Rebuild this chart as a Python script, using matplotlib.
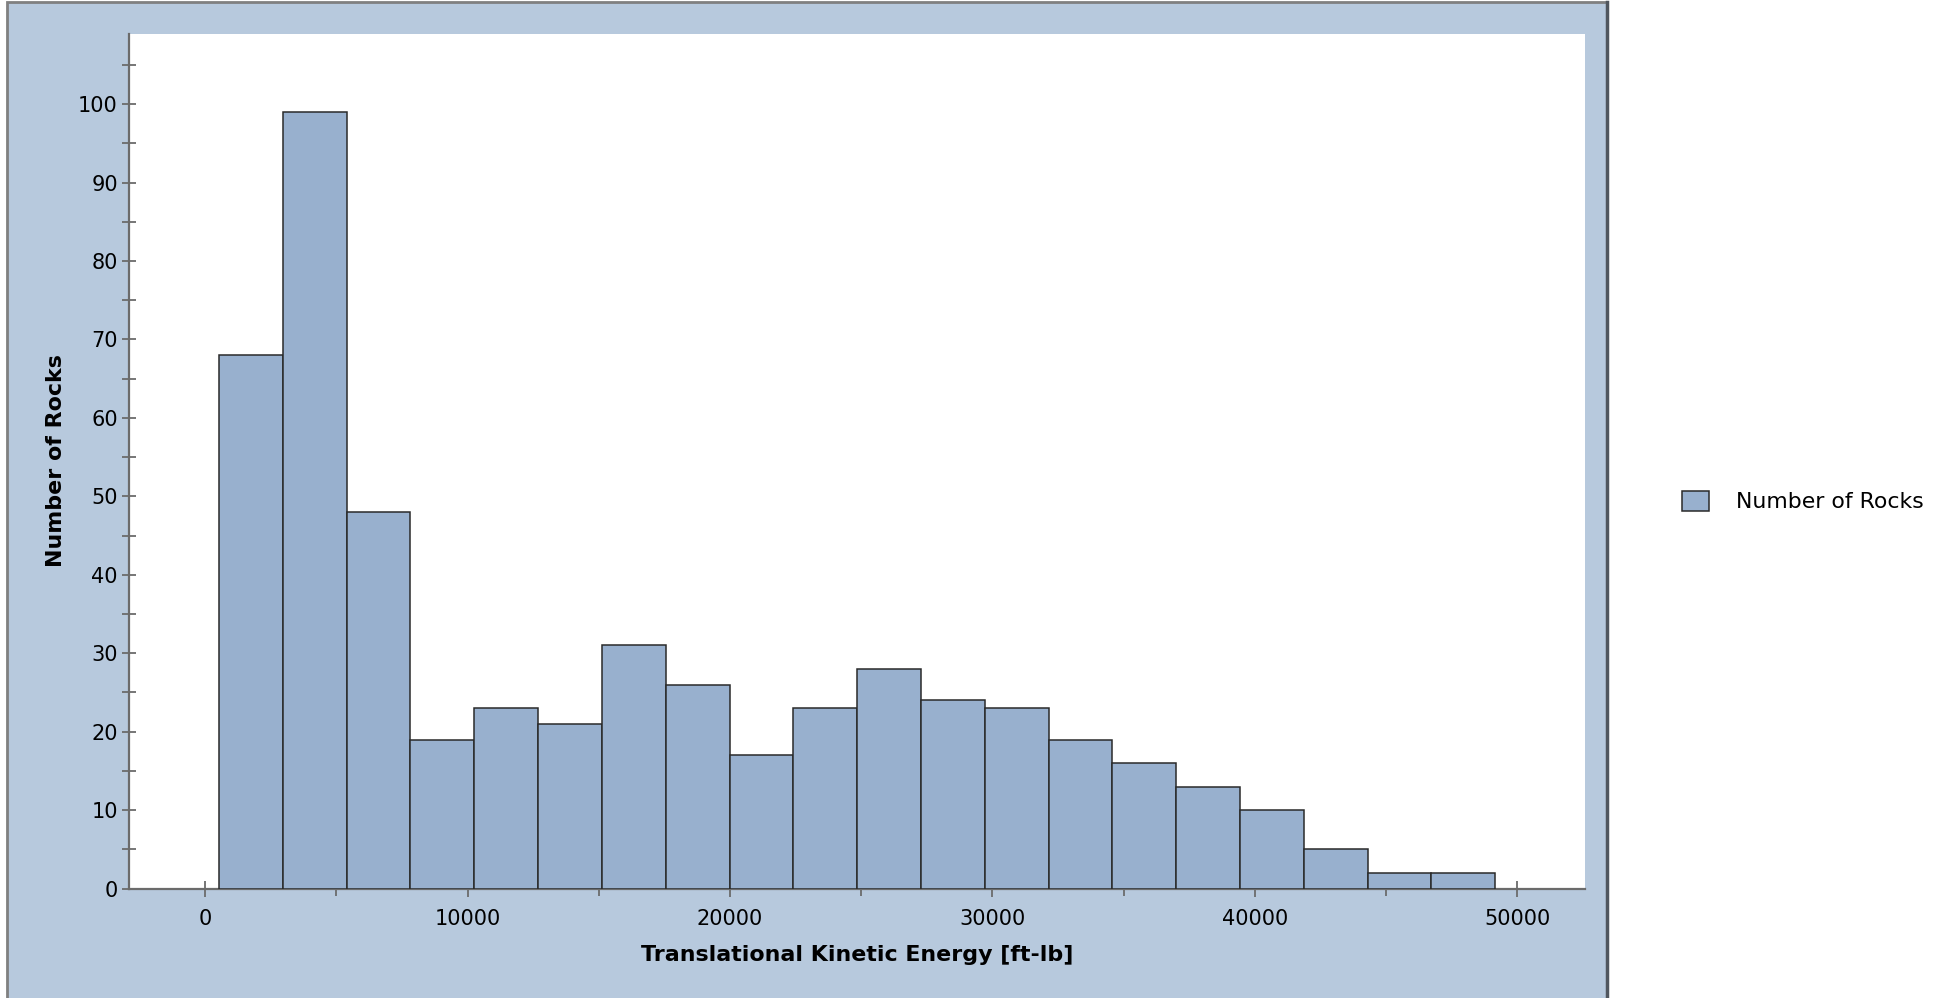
import matplotlib
matplotlib.use("Agg")
import matplotlib.pyplot as plt
from matplotlib.patches import Rectangle
from matplotlib.ticker import MultipleLocator

# ---- data ----
counts = [68, 99, 48, 19, 23, 21, 31, 26, 17, 23, 28, 24, 23, 19, 16, 13, 10, 5, 2, 2]
bin_start = 526
bin_width = 2432
series_name = "Number of Rocks"
x_label = "Translational Kinetic Energy [ft-lb]"
y_label = "Number of Rocks"
x_ticks = [0, 10000, 20000, 30000, 40000, 50000]
y_ticks = [0, 10, 20, 30, 40, 50, 60, 70, 80, 90, 100]

# ---- style ----
W, H, DPI = 1946, 998, 100
panel_color = "#B7C9DD"
bar_color = "#98B0CE"
edge_color = "#2a2a2a"
axis_color = "#6b6b6b"
fs = 15
lfs = 15.9

plt.rcParams['font.family'] = ['DejaVu Sans']

fig = plt.figure(figsize=(W / DPI, H / DPI), dpi=DPI)
fig.patch.set_facecolor("white")

# blue panel behind the plot
px = lambda v: v / W
py = lambda v: 1 - v / H
panel = Rectangle((px(7), -0.05), px(1607) - px(7), py(2) + 0.05,
                  transform=fig.transFigure, facecolor=panel_color,
                  edgecolor="#808080", linewidth=2, zorder=-2)
fig.patches.append(panel)
fig.add_artist(plt.Line2D([px(1607), px(1607)], [0, py(2)], transform=fig.transFigure,
                          color="#50565e", linewidth=2.5, zorder=-1))

ax = fig.add_axes([px(129), py(888.6), px(1585) - px(129), py(33.5) - py(888.6)])
ax.set_zorder(1)
ax.set_facecolor("white")

lefts = [bin_start + i * bin_width for i in range(len(counts))]
ax.bar(lefts, counts, width=bin_width, align="edge", color=bar_color,
       edgecolor=edge_color, linewidth=1.1, zorder=3, label=series_name)

ax.set_xlim(-2904, 52584)
ax.set_ylim(0, 109)

for s in ["top", "right"]:
    ax.spines[s].set_visible(False)
for s in ["left", "bottom"]:
    ax.spines[s].set_color(axis_color)
    ax.spines[s].set_linewidth(1.6)

ax.set_xticks(x_ticks)
ax.set_yticks(y_ticks)
ax.xaxis.set_minor_locator(MultipleLocator(5000))
ax.yaxis.set_minor_locator(MultipleLocator(5))

ax.tick_params(axis="x", which="major", direction="inout", length=11, width=1.3,
               color=axis_color, labelsize=fs, pad=9.5)
ax.tick_params(axis="x", which="minor", direction="out", length=5, width=1.3,
               color=axis_color)
ax.tick_params(axis="y", which="both", direction="inout", length=10, width=1.3,
               color=axis_color, labelsize=fs, pad=3)

ax.set_xlabel(x_label, fontsize=lfs, fontweight="bold", labelpad=11)
ax.set_ylabel(y_label, fontsize=lfs, fontweight="bold", labelpad=8.5)

fig.legend(loc="center left", bbox_to_anchor=(px(1682), py(501.5)), frameon=False,
           fontsize=15.8, handlelength=1.25, handleheight=1.05, handletextpad=1.2,
           borderpad=0, borderaxespad=0)

fig.savefig("out.png", dpi=DPI)
